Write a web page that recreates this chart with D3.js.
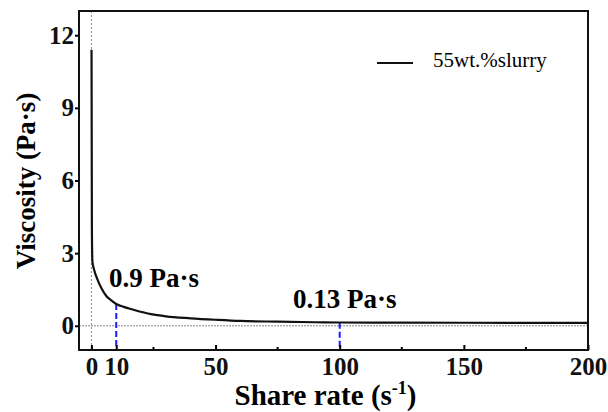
<!DOCTYPE html>
<html>
<head>
<meta charset="utf-8">
<script src="https://cdn.jsdelivr.net/npm/d3@7"></script>
<style>
  body { margin: 0; background: #fff; }
  svg text { font-family: "Liberation Serif", "Times New Roman", serif; }
</style>
</head>
<body>
<svg id="chart" width="608" height="412"></svg>
<script>
// values
var shearRate = [0.05, 0.2, 0.4, 1, 2.5, 4, 6, 8, 10, 13, 17, 24, 30, 40, 50, 60, 75, 90, 100, 120, 150, 200];
var viscosity = [11.4, 4.0, 2.65, 2.35, 1.9, 1.56, 1.23, 1.05, 0.9, 0.78, 0.66, 0.48, 0.39, 0.31, 0.25, 0.2, 0.17, 0.145, 0.135, 0.13, 0.125, 0.12];
var xTicks = [0, 10, 50, 100, 150, 200];
var xMinorTicks = [25, 75, 125, 175];
var yTicks = [0, 3, 6, 9, 12];
var marks = [{x: 10, y: 0.9, label: "0.9 Pa·s"}, {x: 100, y: 0.13, label: "0.13 Pa·s"}];
var seriesName = "55wt.%slurry";

var svg = d3.select('#chart');
var margin = {top: 11, right: 20, bottom: 62, left: 79};
var width = 608, height = 412;

var x = d3.scaleLinear().domain([-5, 200]).range([margin.left, width - margin.right]);
var y = d3.scaleLinear().domain([-1, 13]).range([height - margin.bottom, margin.top]);

// zero reference lines (gray dotted)
svg.append('line')
    .attr('x1', x(0)).attr('x2', x(0))
    .attr('y1', y(13)).attr('y2', y(-1))
    .attr('stroke', '#888').attr('stroke-width', 1).attr('stroke-dasharray', '2,2');
svg.append('line')
    .attr('x1', x(-5)).attr('x2', x(200))
    .attr('y1', y(0)).attr('y2', y(0))
    .attr('stroke', '#888').attr('stroke-width', 1).attr('stroke-dasharray', '2,1');

// blue dashed drop lines
svg.selectAll('.drop')
    .data(marks)
    .enter()
    .append('line')
    .attr('x1', function (d) { return x(d.x); })
    .attr('x2', function (d) { return x(d.x); })
    .attr('y1', function (d) { return y(d.y); })
    .attr('y2', y(-1))
    .attr('stroke', '#1a1aff').attr('stroke-width', 2).attr('stroke-dasharray', '6,3');

// the curve
var pts = shearRate.map(function (d, i) { return [d, viscosity[i]]; });
var line = d3.line()
    .x(function (d) { return x(d[0]); })
    .y(function (d) { return y(d[1]); })
    .curve(d3.curveMonotoneX);
svg.append('path')
    .datum(pts)
    .attr('d', line)
    .attr('fill', 'none')
    .attr('stroke', '#111')
    .attr('stroke-width', 2.2);

// annotations
svg.selectAll('.ann')
    .data(marks)
    .enter()
    .append('text')
    .attr('x', function (d, i) { return i == 0 ? 109 : 293; })
    .attr('y', function (d, i) { return i == 0 ? 287 : 308; })
    .attr('font-size', '27px')
    .attr('font-weight', 'bold')
    .text(function (d) { return d.label; });

// axes
var xAxis = svg.append('g')
    .attr('transform', 'translate(0,' + y(-1) + ')')
    .call(d3.axisBottom(x).tickValues(xTicks).tickSizeInner(-5).tickSizeOuter(0).tickPadding(7));
xAxis.select('.domain').remove();
xAxis.selectAll('text').attr('font-size', '25px').attr('font-weight', 'bold').attr('fill', '#111');
xAxis.selectAll('line').attr('stroke-width', 2);
// the 10 tick is hidden behind the blue line in the picture
svg.append('g')
    .attr('transform', 'translate(0,' + y(-1) + ')')
    .selectAll('line')
    .data(xMinorTicks)
    .enter()
    .append('line')
    .attr('x1', function (d) { return x(d); })
    .attr('x2', function (d) { return x(d); })
    .attr('y1', 0).attr('y2', -3)
    .attr('stroke', '#000').attr('stroke-width', 2);

var yAxis = svg.append('g')
    .attr('transform', 'translate(' + x(-5) + ',0)')
    .call(d3.axisLeft(y).tickValues(yTicks).tickSizeInner(4).tickSizeOuter(0).tickPadding(1));
yAxis.select('.domain').remove();
yAxis.selectAll('text').attr('font-size', '25px').attr('font-weight', 'bold').attr('fill', '#111');
yAxis.selectAll('line').attr('stroke-width', 2);

// frame
svg.append('rect')
    .attr('x', x(-5)).attr('y', y(13))
    .attr('width', x(200) - x(-5)).attr('height', y(-1) - y(13))
    .attr('fill', 'none').attr('stroke', '#111').attr('stroke-width', 2);

// axis titles
var xt = svg.append('text')
    .attr('x', (232 + 419) / 2).attr('y', 405)
    .attr('text-anchor', 'middle')
    .attr('font-size', '29px').attr('font-weight', 'bold');
xt.append('tspan').text('Share rate (s');
xt.append('tspan').attr('dy', -11).attr('font-size', '18px').text('-1');
xt.append('tspan').attr('dy', 11).text(')');

svg.append('text')
    .attr('transform', 'translate(35,181) rotate(-90)')
    .attr('text-anchor', 'middle')
    .attr('font-size', '27px').attr('font-weight', 'bold')
    .text('Viscosity (Pa·s)');

// legend
svg.append('line')
    .attr('x1', 377).attr('x2', 413).attr('y1', 63).attr('y2', 63)
    .attr('stroke', '#111').attr('stroke-width', 2);
svg.append('text')
    .attr('x', 433).attr('y', 67)
    .attr('font-size', '21px')
    .text(seriesName);
</script>
</body>
</html>
